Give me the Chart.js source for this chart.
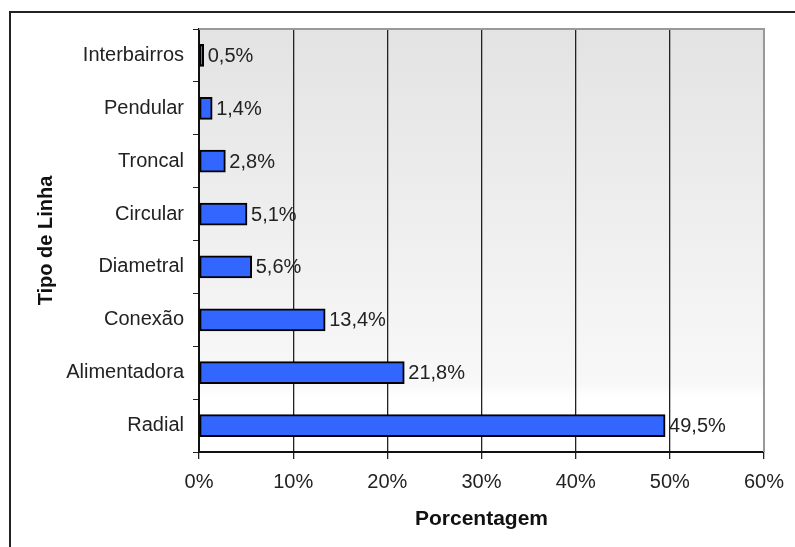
<!DOCTYPE html>
<html>
<head>
<meta charset="utf-8">
<script src="https://cdn.jsdelivr.net/npm/chart.js@4/dist/chart.umd.min.js"></script>
<style>
  body { margin: 0; background: #fff; }
</style>
</head>
<body>
<canvas id="grafico" width="795" height="547"></canvas>
<script>
const tipos = ["Interbairros", "Pendular", "Troncal", "Circular", "Diametral", "Conexão", "Alimentadora", "Radial"];
const porcentagens = [0.5, 1.4, 2.8, 5.1, 5.6, 13.4, 21.8, 49.5];
const ticks_x = [0, 10, 20, 30, 40, 50, 60];

const fonte = "'Liberation Sans', Arial, sans-serif";

// moldura externa e fundo degradê da área do gráfico
const fundo = {
  id: "fundo",
  beforeDraw(chart) {
    const ctx = chart.ctx;
    const a = chart.chartArea;
    ctx.save();
    ctx.strokeStyle = "#222";
    ctx.lineWidth = 2;
    ctx.beginPath();
    ctx.moveTo(10, 547);
    ctx.lineTo(10, 12);
    ctx.lineTo(795, 12);
    ctx.stroke();
    const g = ctx.createLinearGradient(0, a.top, 0, a.bottom);
    g.addColorStop(0, "#e3e3e3");
    g.addColorStop(0.84, "#f8f8f8");
    g.addColorStop(0.87, "#ffffff");
    g.addColorStop(1, "#ffffff");
    ctx.fillStyle = g;
    ctx.fillRect(a.left, a.top, a.right - a.left, a.bottom - a.top);
    ctx.restore();
  },
  afterDraw(chart) {
    const ctx = chart.ctx;
    const a = chart.chartArea;
    ctx.save();
    ctx.strokeStyle = "#999";
    ctx.lineWidth = 2;
    ctx.beginPath();
    ctx.moveTo(a.left, a.top);
    ctx.lineTo(a.right, a.top);
    ctx.lineTo(a.right, a.bottom);
    ctx.stroke();
    ctx.restore();
  }
};

const rotulos = {
  id: "rotulos",
  afterDatasetsDraw(chart) {
    const ctx = chart.ctx;
    const meta = chart.getDatasetMeta(0);
    ctx.save();
    ctx.font = "20px " + fonte;
    ctx.fillStyle = "#222";
    ctx.textBaseline = "middle";
    meta.data.forEach((bar, i) => {
      const txt = porcentagens[i].toFixed(1).replace(".", ",") + "%";
      ctx.fillText(txt, bar.x + 4, bar.y + 1);
    });
    ctx.restore();
  }
};

new Chart(document.getElementById("grafico"), {
  type: "bar",
  data: {
    labels: tipos,
    datasets: [
      {
        data: porcentagens,
        backgroundColor: "#3366ff",
        borderColor: "#000",
        borderWidth: 2,
        borderSkipped: false,
        barThickness: 22,
      },
    ],
  },
  options: {
    indexAxis: "y",
    responsive: false,
    animation: false,
    layout: { padding: { top: 29, right: 26, left: 0, bottom: 0 } },
    plugins: { legend: { display: false }, tooltip: { enabled: false } },
    scales: {
      x: {
        min: 0,
        max: 60,
        afterBuildTicks(scale) {
          scale.ticks = ticks_x.map(v => ({ value: v }));
        },
        afterFit(scale) { scale.height = 95; },
        ticks: {
          callback: v => v + "%",
          color: "#222",
          font: { family: fonte, size: 20 },
          padding: 11,
          maxRotation: 0,
        },
        grid: {
          color: c => (c.index === 6 ? "#999" : "#222"),
          lineWidth: 1.3,
          tickLength: 7,
          tickColor: "#222",
        },
        border: { display: true, color: "#111", width: 2 },
        title: {
          display: true,
          text: "Porcentagem",
          color: "#111",
          font: { family: fonte, size: 21, weight: "bold" },
          padding: { top: 0, bottom: 15 },
        },
      },
      y: {
        afterFit(scale) { scale.width = 199; },
        ticks: {
          color: "#222",
          font: { family: fonte, size: 20 },
          padding: 9,
        },
        grid: {
          offset: true,
          drawOnChartArea: false,
          tickLength: 6,
          color: "#222",
        },
        border: { display: true, color: "#111", width: 2 },
        title: {
          display: true,
          text: "Tipo de Linha",
          color: "#111",
          font: { family: fonte, size: 20, weight: "bold" },
          padding: { top: 34, bottom: 0 },
        },
      },
    },
  },
  plugins: [fundo, rotulos],
});
</script>
</body>
</html>
